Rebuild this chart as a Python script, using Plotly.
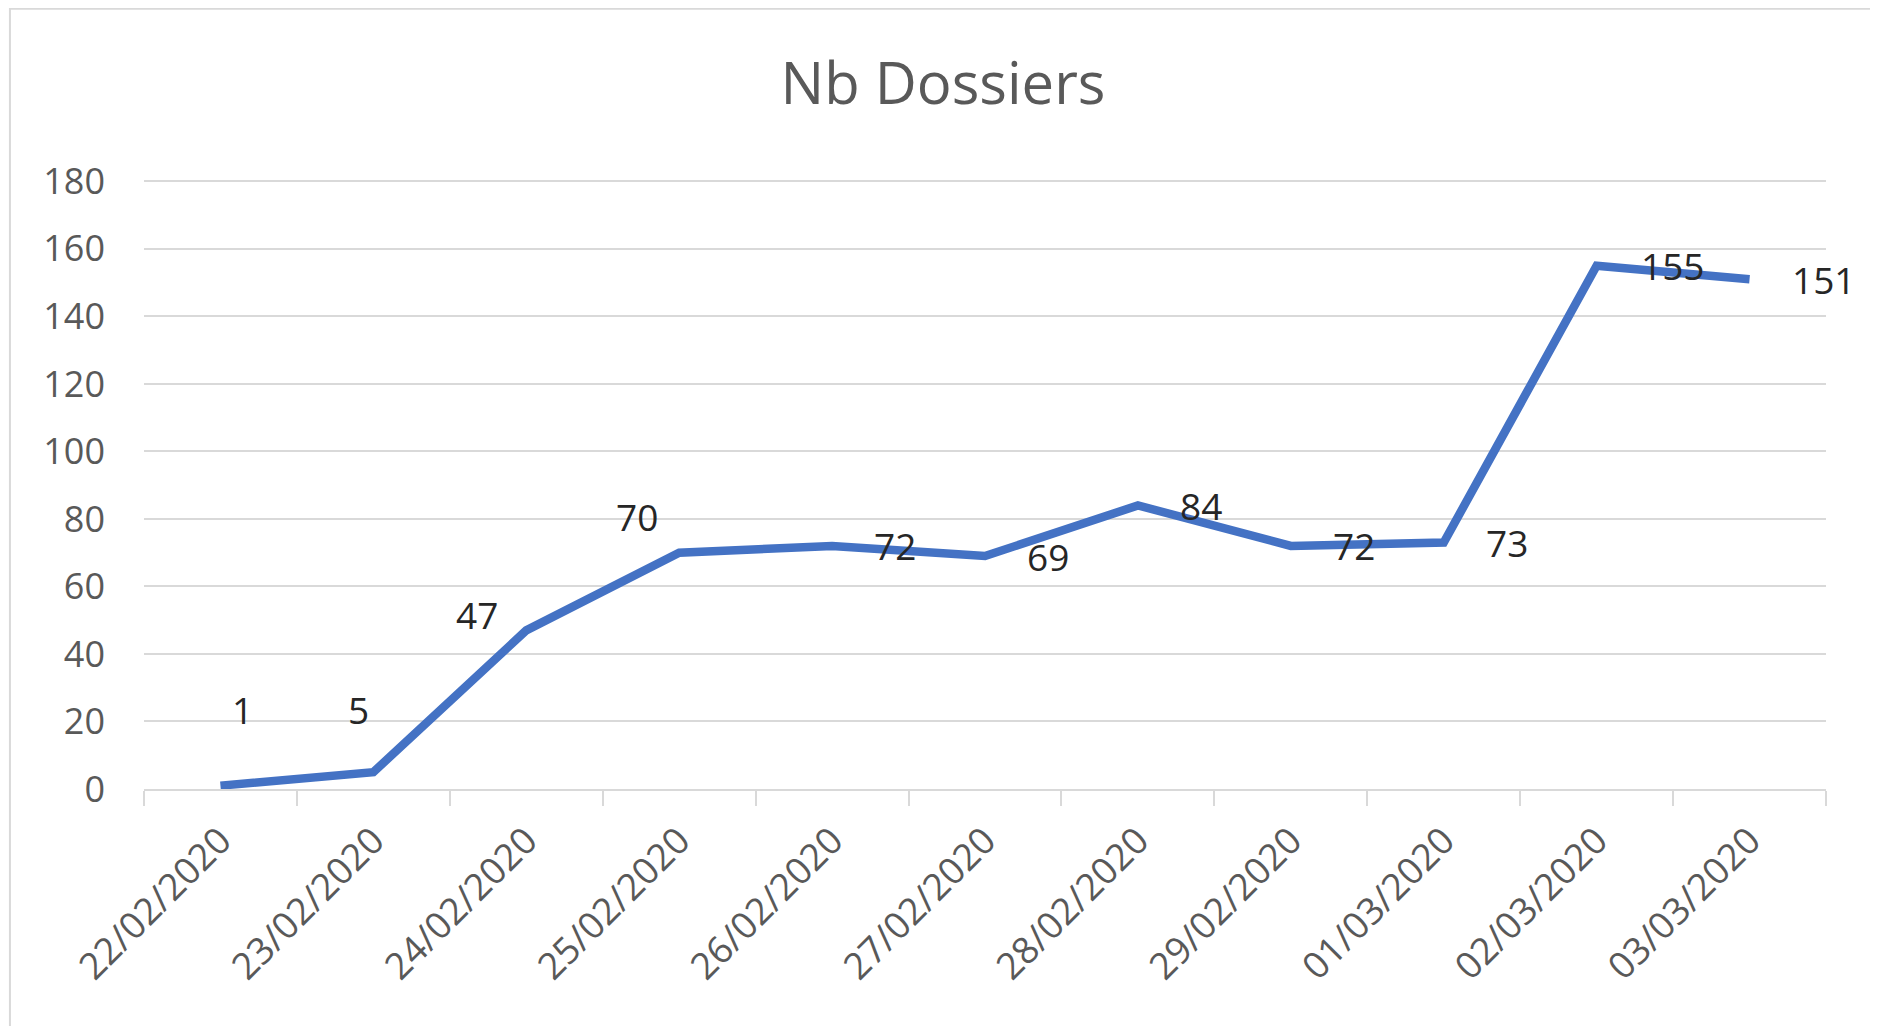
import plotly.graph_objects as go

# ---- data ----
dates = ["22/02/2020", "23/02/2020", "24/02/2020", "25/02/2020", "26/02/2020",
         "27/02/2020", "28/02/2020", "29/02/2020", "01/03/2020", "02/03/2020",
         "03/03/2020"]
nb_dossiers = [1, 5, 47, 70, 72, 69, 84, 72, 73, 155, 151]
y_ticks = [0, 20, 40, 60, 80, 100, 120, 140, 160, 180]

# ---- label placement (styles, not data) ----
label_anchor = ["center", "center", "right", "right", "left", "left",
                "left", "left", "left", "left", "left"]
label_xshift = [22, -15, -26, -19, 40, 40, 40, 40, 40, 42, 40]
label_yshift = [76, 63, 16, 36, 0, 0, 0, 0, 0, 0, 0]

FONT = "Open Sans"
GRID = "#D9D9D9"

W, H = 1870, 1018  # page body has an 8px margin

fig = go.Figure()
fig.add_trace(go.Scatter(
    x=dates, y=nb_dossiers, mode="lines",
    line=dict(color="#4472C4", width=8.5),
    hoverinfo="x+y", showlegend=False,
))

for d, v, a, xs, ys in zip(dates, nb_dossiers, label_anchor, label_xshift, label_yshift):
    fig.add_annotation(
        x=d, y=v, xref="x", yref="y", text=str(v), showarrow=False,
        xanchor=a, yanchor="middle", xshift=xs, yshift=ys,
        font=dict(family=FONT, size=37, color="#262626"),
    )

# chart-area border (left and top visible, rest cropped)
fig.add_shape(type="rect", xref="paper", yref="paper",
              x0=-0.0797, x1=1.2, y0=-0.6, y1=1.2812,
              line=dict(color=GRID, width=2), fillcolor="rgba(0,0,0,0)", layer="below")

fig.update_layout(
    width=W, height=H,
    margin=dict(l=136, r=52, t=172, b=237, autoexpand=False),
    paper_bgcolor="white", plot_bgcolor="white",
    title=dict(text="Nb Dossiers", x=0.5, xref="container", xanchor="center",
               y=1 - 76 / H, yref="container", yanchor="middle",
               font=dict(family=FONT, size=58, color="#595959")),
    font=dict(family=FONT, size=36, color="#595959"),
)

fig.update_xaxes(
    type="category", tickangle=-45, automargin=False,
    range=[-0.5, len(dates) - 0.5],
    showgrid=False, showline=True, linecolor=GRID, linewidth=2,
    ticks="outside", tickson="boundaries", ticklen=15, tickcolor=GRID, tickwidth=2,
    ticklabelstandoff=13,
    tickfont=dict(family=FONT, size=37, color="#595959"),
    zeroline=False,
)
fig.update_yaxes(
    range=[0, 180.4], tickvals=y_ticks, ticktext=[str(t) for t in y_ticks],
    automargin=False,
    showgrid=True, gridcolor=GRID, gridwidth=2,
    showline=False, zeroline=False, ticks="",
    ticklabelstandoff=38,
    tickfont=dict(family=FONT, size=36, color="#595959"),
)

fig.write_html("out.html")
